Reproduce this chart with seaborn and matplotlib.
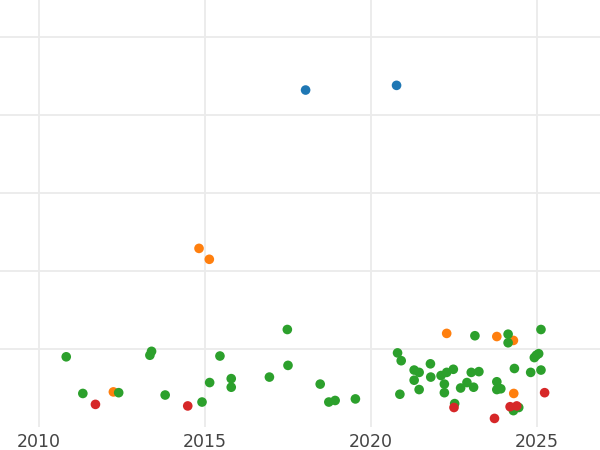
import numpy as np
import pandas as pd
import matplotlib
matplotlib.use("Agg")
import matplotlib.pyplot as plt
import seaborn as sns

# values (x = decimal year, y = arbitrary units, gridlines at 1..5)
blue_x = [2018.03, 2020.77]
blue_y = [4.32, 4.38]

orange_x = [2014.82, 2015.13, 2012.24, 2022.28, 2023.79, 2024.29, 2024.30]
orange_y = [2.29, 2.15, 0.45, 1.20, 1.16, 1.11, 0.43]

green_x = [2010.82, 2011.32, 2012.40, 2013.34, 2013.39, 2013.80, 2014.91, 2015.14,
           2015.45, 2015.79, 2015.79, 2016.94, 2017.48, 2017.50, 2018.47, 2018.73,
           2018.92, 2019.53, 2020.80, 2020.91, 2020.87, 2021.30, 2021.45, 2021.30,
           2021.45, 2021.79, 2021.80, 2022.11, 2022.28, 2022.48, 2022.21, 2022.21,
           2022.52, 2022.70, 2022.89, 2023.09, 2023.02, 2023.25, 2023.13, 2023.79,
           2023.79, 2023.91, 2024.13, 2024.13, 2024.32, 2024.29, 2024.45, 2024.81,
           2024.92, 2024.98, 2025.05, 2025.12, 2025.12]
green_y = [0.90, 0.43, 0.44, 0.92, 0.97, 0.41, 0.32, 0.57,
           0.91, 0.62, 0.51, 0.64, 1.25, 0.79, 0.55, 0.32,
           0.34, 0.36, 0.95, 0.85, 0.42, 0.73, 0.70, 0.60,
           0.48, 0.81, 0.64, 0.66, 0.70, 0.74, 0.55, 0.44,
           0.30, 0.50, 0.57, 0.51, 0.70, 0.71, 1.17, 0.58,
           0.48, 0.49, 1.19, 1.08, 0.75, 0.21, 0.25, 0.70,
           0.89, 0.92, 0.94, 1.25, 0.73]

red_x = [2011.70, 2014.48, 2022.50, 2023.72, 2024.19, 2024.39, 2025.23]
red_y = [0.29, 0.27, 0.25, 0.11, 0.26, 0.27, 0.44]

groups = ["A", "B", "C", "D"]
colors = ["#1f77b4", "#ff7f0e", "#2ca02c", "#d62728"]

df = pd.concat([
    pd.DataFrame({"year": blue_x, "value": blue_y, "group": groups[0]}),
    pd.DataFrame({"year": orange_x, "value": orange_y, "group": groups[1]}),
    pd.DataFrame({"year": green_x, "value": green_y, "group": groups[2]}),
    pd.DataFrame({"year": red_x, "value": red_y, "group": groups[3]}),
], ignore_index=True)

sns.set_style("whitegrid")
fig = plt.figure(figsize=(6, 4.5), dpi=100)
ax = fig.add_axes([0, 23 / 450, 1, 427 / 450])

sns.scatterplot(data=df, x="year", y="value", hue="group", hue_order=groups,
                palette=colors, s=48, linewidth=0, alpha=1, legend=False, ax=ax)

ax.set_xlim(2008.825, 2026.898)
ax.set_ylim(0, 427 / 78)
ax.set_xticks([2010, 2015, 2020, 2025])
ax.set_yticks([1, 2, 3, 4, 5])
ax.set_yticklabels([])
ax.grid(True, color="#ebebeb", linewidth=1.3)
ax.tick_params(axis="x", length=0, pad=4, labelsize=12.5, labelcolor="#444444")
ax.tick_params(axis="y", length=0)
ax.set_xlabel("")
ax.set_ylabel("")
sns.despine(ax=ax, left=True, bottom=True)

fig.savefig("out.png", dpi=100)
